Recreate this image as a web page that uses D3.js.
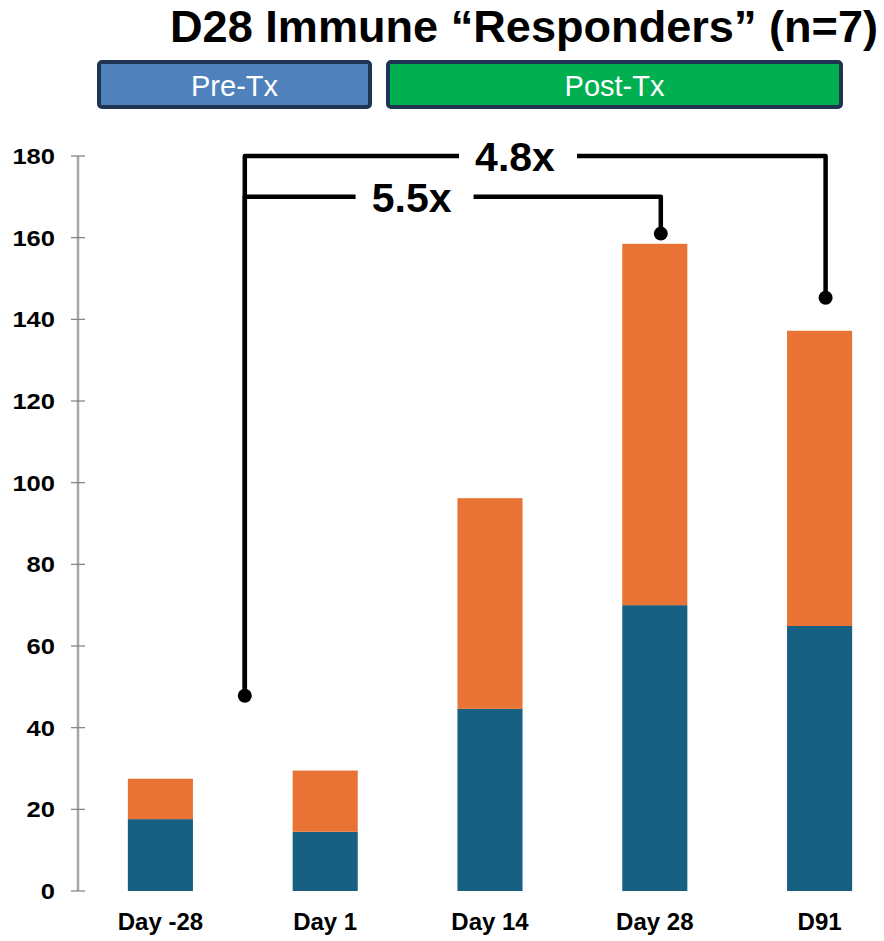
<!DOCTYPE html>
<html>
<head>
<meta charset="utf-8">
<script src="https://cdn.jsdelivr.net/npm/d3@7"></script>
<style>
  html, body { margin: 0; padding: 0; background: #fff; }
  svg { display: block; font-family: "Liberation Sans", Arial, sans-serif; }
</style>
</head>
<body>
<svg id="chart" width="884" height="941"></svg>
<script>
// Timepoints and stacked components
const categories = ["Day -28", "Day 1", "Day 14", "Day 28", "D91"];
const lowerValues = [17.6, 14.5, 44.6, 70.0, 64.9];   // dark teal segment
const upperValues = [9.9, 15.0, 51.6, 88.5, 72.3];    // orange segment on top
const yTicks = [0, 20, 40, 60, 80, 100, 120, 140, 160, 180];

// Phase header boxes
const phases = ["Pre-Tx", "Post-Tx"];

// Fold-change brackets: baseline anchor, target timepoint, bracket level
const folds = [
  { label: "4.8x", target: "D91",    level: 180, targetValue: 145.3 },
  { label: "5.5x", target: "Day 28", level: 170, targetValue: 161 }
];
const baselineAnchorValue = 47.8;

const title = "D28 Immune \u201CResponders\u201D (n=7)";

const colors = { lower: "#186081", upper: "#e97334" };

const svg = d3.select("#chart");
const margin = { left: 78, right: 902, top: 156, bottom: 891 };

const x = d3.scaleBand()
  .domain(categories)
  .range([margin.left, margin.right])
  .paddingInner(0.605)
  .paddingOuter(0.3025);

const y = d3.scaleLinear().domain([0, 180]).range([margin.bottom, margin.top]);

// Title
svg.append("text")
  .attr("x", 878).attr("y", 42)
  .attr("text-anchor", "end")
  .attr("font-size", 45).attr("font-weight", "bold")
  .attr("textLength", 708).attr("lengthAdjust", "spacingAndGlyphs")
  .attr("fill", "#000")
  .text(title);

// Phase header boxes
const phaseBoxes = [
  { name: phases[0], x0: 97, x1: 372, fill: "#4f81bd" },
  { name: phases[1], x0: 386, x1: 843, fill: "#00b050" }
];
const hdr = svg.append("g");
phaseBoxes.forEach(p => {
  hdr.append("rect")
    .attr("x", p.x0 + 2).attr("y", 62)
    .attr("width", p.x1 - p.x0 - 4).attr("height", 45)
    .attr("rx", 3)
    .attr("fill", p.fill)
    .attr("stroke", "#1e3450").attr("stroke-width", 4);
  hdr.append("text")
    .attr("x", (p.x0 + p.x1) / 2).attr("y", 96)
    .attr("text-anchor", "middle")
    .attr("font-size", 29)
    .attr("fill", "#fff")
    .text(p.name);
});

// Y axis
const gy = svg.append("g").attr("transform", `translate(${margin.left},0)`);
gy.append("line")
  .attr("x1", 0).attr("x2", 0)
  .attr("y1", y(180)).attr("y2", y(0))
  .attr("stroke", "#a6a6a6").attr("stroke-width", 2.5);
gy.selectAll("line.tick")
  .data(yTicks).join("line")
  .attr("class", "tick")
  .attr("x1", -7).attr("x2", 7)
  .attr("y1", d => y(d)).attr("y2", d => y(d))
  .attr("stroke", "#7f7f7f").attr("stroke-width", 1.2);
gy.selectAll("text.lab")
  .data(yTicks).join("text")
  .attr("class", "lab")
  .attr("x", -23).attr("y", d => y(d))
  .attr("dy", "0.36em")
  .attr("text-anchor", "end")
  .attr("font-size", 22).attr("font-weight", "bold")
  .attr("textLength", d => String(d).length * 14.2)
  .attr("lengthAdjust", "spacingAndGlyphs")
  .attr("fill", "#000")
  .text(d => d);

// Stacked bars
const rows = categories.map((c, i) => ({ cat: c, lower: lowerValues[i], upper: upperValues[i] }));
const stack = d3.stack().keys(["lower", "upper"])(rows);
svg.append("g").selectAll("g")
  .data(stack).join("g")
  .attr("fill", d => colors[d.key])
  .selectAll("rect")
  .data(d => d).join("rect")
  .attr("x", d => x(d.data.cat))
  .attr("width", x.bandwidth())
  .attr("y", d => y(d[1]))
  .attr("height", d => y(d[0]) - y(d[1]));

// X labels
svg.append("g").selectAll("text")
  .data(categories).join("text")
  .attr("x", d => x(d) + x.bandwidth() / 2)
  .attr("y", 930)
  .attr("text-anchor", "middle")
  .attr("font-size", 24).attr("font-weight", "bold")
  .attr("fill", "#000")
  .attr("xml:space", "preserve")
  .text(d => d);

// Fold-change brackets
const cx = c => x(c) + x.bandwidth() / 2;
const baseX = (cx("Day -28") + cx("Day 1")) / 2 + 2;
const labelX = {
  "4.8x": cx("Day 14") + 25,
  "5.5x": (cx("Day 1") + cx("Day 14")) / 2 + 4
};
const gapHalf = 56;
const br = svg.append("g").attr("stroke", "#000").attr("stroke-width", 4.5).attr("fill", "none");
folds.forEach(f => {
  const tx = cx(f.target) + 6;
  const ly = y(f.level);
  const lx = labelX[f.label];
  // left part: baseline vertical up to the bracket level, then across to the label
  br.append("path")
    .attr("d", `M${baseX},${y(baselineAnchorValue)} L${baseX},${ly} L${lx - gapHalf},${ly}`)
    .attr("stroke-linejoin", "round");
  // right part: from the label across, then down to the target bar
  br.append("path")
    .attr("d", `M${lx + gapHalf + 6},${ly} L${tx},${ly} L${tx},${y(f.targetValue)}`)
    .attr("stroke-linejoin", "round");
  svg.append("circle")
    .attr("cx", tx).attr("cy", y(f.targetValue)).attr("r", 7)
    .attr("fill", "#000");
  svg.append("text")
    .attr("x", lx).attr("y", ly + 15)
    .attr("text-anchor", "middle")
    .attr("font-size", 41).attr("font-weight", "bold")
    .attr("fill", "#000")
    .text(f.label);
});
svg.append("circle")
  .attr("cx", baseX).attr("cy", y(baselineAnchorValue)).attr("r", 7)
  .attr("fill", "#000");
</script>
</body>
</html>
